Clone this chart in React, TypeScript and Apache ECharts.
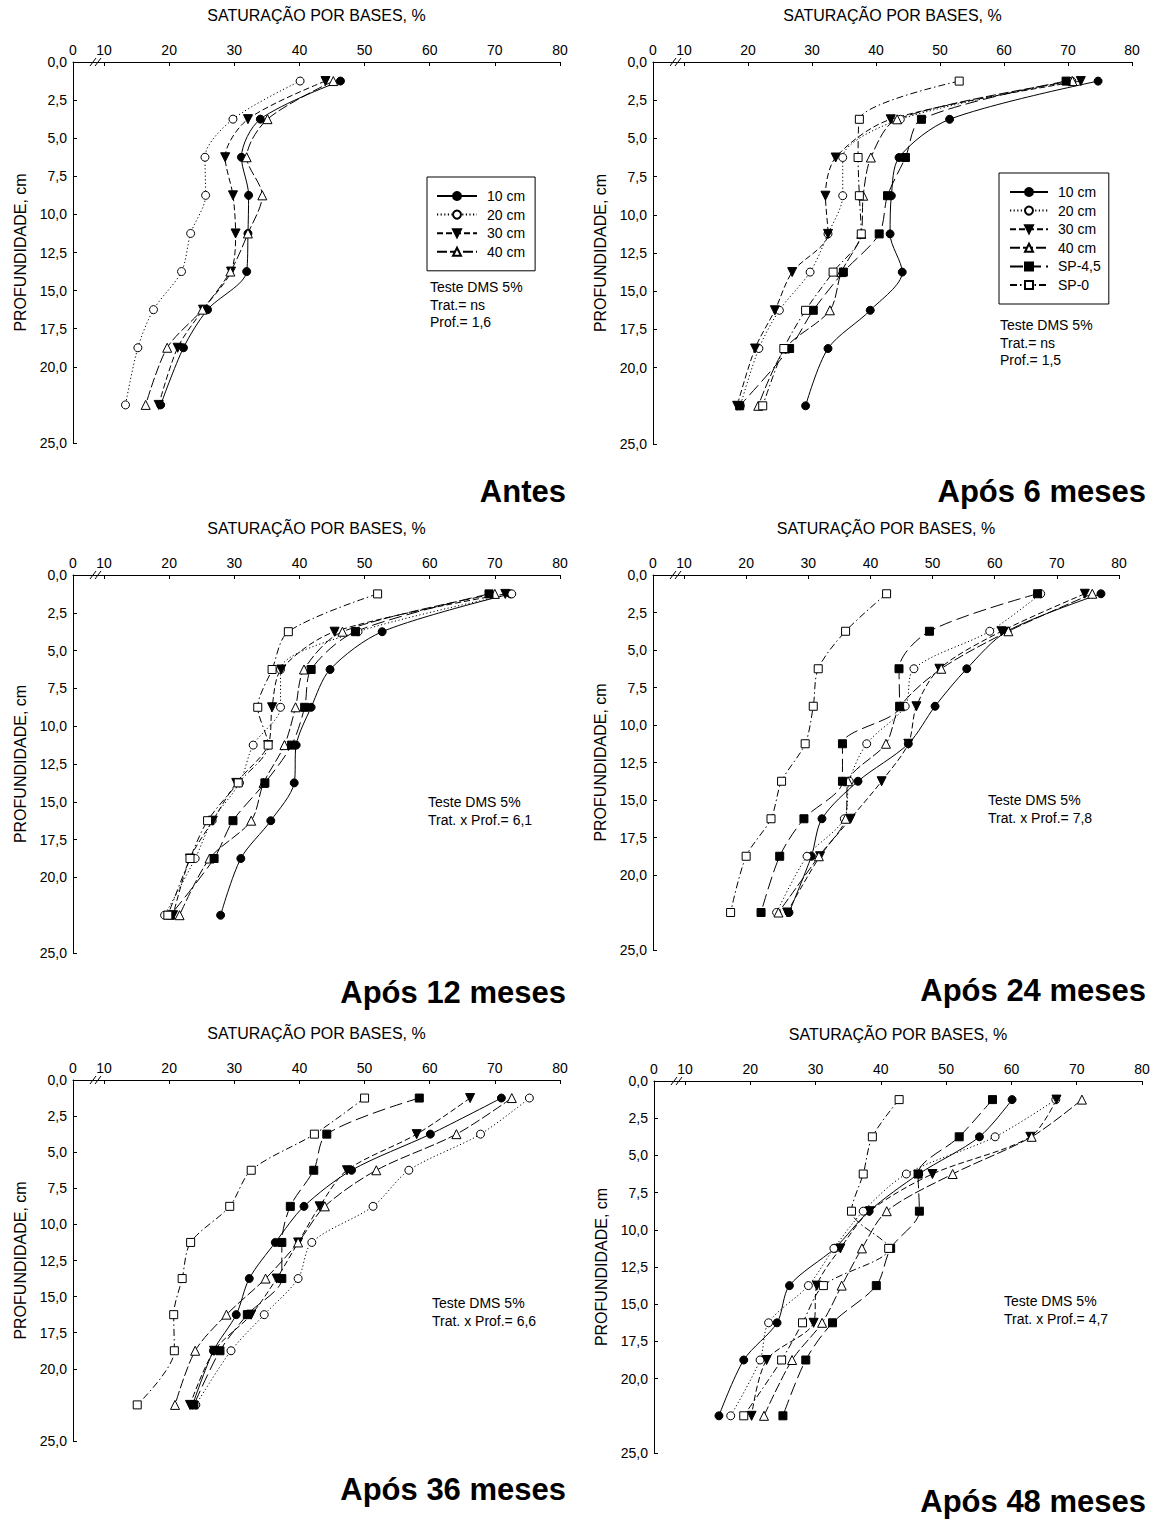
import React, { useEffect, useRef } from 'react';
import * as echarts from 'echarts';

// Sampling depths (cm) shared by every profile
const DEPTHS = [1.25, 3.75, 6.25, 8.75, 11.25, 13.75, 16.25, 18.75, 22.5];
const X_TICKS = [10, 20, 30, 40, 50, 60, 70, 80];
const Y_TICKS = [0, 2.5, 5, 7.5, 10, 12.5, 15, 17.5, 20, 25];
const SERIES_NAMES = ['10 cm', '20 cm', '30 cm', '40 cm', 'SP-4,5', 'SP-0'];

// Base saturation (%) per treatment, one value per depth
const antes10 = [46.3, 34.0, 31.1, 32.2, 32.1, 31.9, 25.9, 22.2, 18.7];
const antes20 = [40.1, 29.8, 25.5, 25.6, 23.3, 21.9, 17.6, 15.2, 13.3];
const antes30 = [44.0, 32.1, 28.6, 29.8, 30.2, 29.5, 25.2, 21.3, 18.4];
const antes40 = [45.2, 35.1, 31.9, 34.3, 32.1, 29.4, 25.1, 19.7, 16.4];

const m6_10 = [74.7, 51.5, 43.6, 42.4, 42.2, 44.1, 39.1, 32.5, 29.0];
const m6_20 = [70.6, 43.8, 34.8, 34.8, 32.5, 29.7, 24.9, 21.7, 18.8];
const m6_30 = [72.0, 42.3, 33.7, 32.1, 32.5, 26.9, 24.2, 21.1, 18.3];
const m6_40 = [70.7, 43.3, 39.2, 38.0, 37.7, 34.6, 32.8, 25.8, 21.6];
const m6_sp45 = [69.7, 47.1, 44.6, 41.8, 40.5, 34.9, 30.2, 26.5, 18.7];
const m6_sp0 = [53.0, 37.4, 37.2, 37.4, 37.7, 33.3, 29.0, 25.6, 22.3];

const m12_10 = [72.4, 52.7, 44.7, 41.8, 39.5, 39.2, 35.6, 31.0, 27.9];
const m12_20 = [72.6, 49.0, 37.1, 37.1, 32.9, 30.8, 26.6, 24.0, 19.3];
const m12_30 = [71.6, 45.4, 37.2, 35.8, 35.2, 30.3, 26.7, 23.2, 20.6];
const m12_40 = [70.0, 46.6, 40.7, 39.4, 37.7, 34.5, 32.6, 26.2, 21.6];
const m12_sp45 = [69.1, 48.6, 41.8, 40.8, 38.8, 34.7, 29.8, 26.9, 20.2];
const m12_sp0 = [52.0, 38.3, 35.8, 33.6, 35.2, 30.6, 25.9, 23.2, 19.8];

const m24_10 = [77.1, 62.0, 55.5, 50.4, 46.1, 38.0, 32.2, 30.5, 26.9];
const m24_20 = [67.4, 59.2, 47.0, 45.6, 39.4, 36.6, 35.8, 29.8, 24.9];
const m24_30 = [74.5, 61.1, 51.1, 47.4, 46.1, 41.8, 36.8, 31.9, 26.6];
const m24_40 = [75.7, 62.2, 51.4, 44.8, 42.5, 36.4, 36.0, 31.7, 25.2];
const m24_sp45 = [66.9, 49.5, 44.6, 44.7, 35.5, 35.5, 29.3, 25.4, 22.4];
const m24_sp0 = [42.6, 36.0, 31.6, 30.8, 29.5, 25.7, 24.0, 20.0, 17.5];

const m36_10 = [71.0, 60.1, 48.0, 40.7, 36.3, 32.3, 30.3, 26.8, 23.6];
const m36_20 = [75.3, 67.8, 56.8, 51.3, 41.9, 39.8, 34.6, 29.5, 24.1];
const m36_30 = [66.2, 58.0, 47.3, 43.1, 39.8, 36.5, 32.6, 26.9, 23.2];
const m36_40 = [72.6, 64.1, 51.8, 43.9, 39.8, 34.8, 28.8, 24.0, 20.9];
const m36_sp45 = [58.4, 44.2, 42.2, 38.6, 37.3, 37.3, 32.0, 27.8, 23.8];
const m36_sp0 = [50.0, 42.3, 32.6, 29.3, 23.3, 22.0, 20.7, 20.8, 15.1];

const m48_10 = [60.1, 55.1, 45.8, 38.2, 32.9, 26.0, 24.1, 19.0, 15.2];
const m48_20 = [66.8, 57.5, 43.9, 37.3, 32.8, 28.9, 22.8, 21.5, 17.0];
const m48_30 = [66.9, 62.9, 47.9, 38.3, 33.8, 30.2, 29.7, 22.5, 20.2];
const m48_40 = [70.8, 63.1, 51.0, 40.9, 37.1, 34.0, 31.0, 26.4, 22.1];
const m48_sp45 = [57.1, 52.0, 45.7, 45.9, 41.5, 39.3, 32.6, 28.5, 25.0];
const m48_sp0 = [42.8, 38.7, 37.3, 35.5, 41.2, 31.2, 28.0, 24.8, 19.0];

const PANEL_DATA = [
  [antes10, antes20, antes30, antes40],
  [m6_10, m6_20, m6_30, m6_40, m6_sp45, m6_sp0],
  [m12_10, m12_20, m12_30, m12_40, m12_sp45, m12_sp0],
  [m24_10, m24_20, m24_30, m24_40, m24_sp45, m24_sp0],
  [m36_10, m36_20, m36_30, m36_40, m36_sp45, m36_sp0],
  [m48_10, m48_20, m48_30, m48_40, m48_sp45, m48_sp0],
];

const PANEL_LABELS = ['Antes', 'Após 6 meses', 'Após 12 meses', 'Após 24 meses', 'Após 36 meses', 'Após 48 meses'];
const PANEL_NOTES = [
  ['Teste DMS 5%', 'Trat.= ns', 'Prof.= 1,6'],
  ['Teste DMS 5%', 'Trat.= ns', 'Prof.= 1,5'],
  ['Teste DMS 5%', 'Trat. x Prof.= 6,1'],
  ['Teste DMS 5%', 'Trat. x Prof.= 7,8'],
  ['Teste DMS 5%', 'Trat. x Prof.= 6,6'],
  ['Teste DMS 5%', 'Trat. x Prof.= 4,7'],
];

const X_NAME = 'SATURAÇÃO POR BASES, %';
const Y_NAME = 'PROFUNDIDADE, cm';

const FONT = '"Liberation Sans", Arial, Helvetica, sans-serif';

// Plot-area geometry of each panel (px)
const LAYOUT = [
  { left: 73, right: 560, top: 62, bottom: 443, labelX: 566, labelY: 491, noteX: 430, noteY: 287 },
  { left: 653, right: 1132, top: 62, bottom: 444, labelX: 1146, labelY: 491, noteX: 1000, noteY: 325 },
  { left: 73, right: 560, top: 575, bottom: 953, labelX: 566, labelY: 992, noteX: 428, noteY: 802 },
  { left: 653, right: 1119, top: 575, bottom: 950, labelX: 1146, labelY: 990, noteX: 988, noteY: 800 },
  { left: 73, right: 560, top: 1080, bottom: 1441, labelX: 566, labelY: 1489, noteX: 432, noteY: 1303 },
  { left: 654, right: 1142, top: 1081, bottom: 1453, labelX: 1146, labelY: 1501, noteX: 1004, noteY: 1301 },
];

// Gap (px) between the axis origin and the "10" tick, across the axis break
const BREAK_GAP = 31;

const SERIES_STYLE: Record<string, any> = {
  '10 cm': { symbol: 'circle', size: 8, rotate: 0, fill: '#000', dash: 'solid' },
  '20 cm': { symbol: 'circle', size: 8, rotate: 0, fill: '#fff', dash: [1.2, 2.4] },
  '30 cm': { symbol: 'triangle', size: 9, rotate: 180, fill: '#000', dash: [6, 3] },
  '40 cm': { symbol: 'triangle', size: 9, rotate: 0, fill: '#fff', dash: [10, 3] },
  'SP-4,5': { symbol: 'rect', size: 8, rotate: 0, fill: '#000', dash: [13, 5] },
  'SP-0': { symbol: 'rect', size: 8, rotate: 0, fill: '#fff', dash: [7, 3, 1.5, 3] },
};

function buildOption() {
  const grid: any[] = [];
  const xAxis: any[] = [];
  const yAxis: any[] = [];
  const series: any[] = [];
  const graphic: any[] = [];

  LAYOUT.forEach((p, i) => {
    const width = p.right - p.left;
    const pxPerUnit = (width - BREAK_GAP) / 70;
    const xMin = 10 - BREAK_GAP / pxPerUnit;

    grid.push({ left: p.left, top: p.top, width, height: p.bottom - p.top, outerBoundsMode: 'none' });

    xAxis.push({
      gridIndex: i,
      type: 'value',
      position: 'top',
      min: xMin,
      max: 80,
      name: X_NAME,
      nameLocation: 'middle',
      nameGap: 39,
      nameTextStyle: { color: '#000', fontSize: 16, fontFamily: FONT },
      axisLine: { show: true, onZero: false, lineStyle: { color: '#000', width: 1 } },
      axisTick: { show: true, inside: true, length: 4, customValues: X_TICKS, lineStyle: { color: '#000' } },
      axisLabel: {
        customValues: [xMin, ...X_TICKS],
        formatter: (v: number) => (v < 9 ? '0' : String(Math.round(v))),
        color: '#000',
        fontSize: 14,
        fontFamily: FONT,
        margin: 5,
      },
      splitLine: { show: false },
    });

    yAxis.push({
      gridIndex: i,
      type: 'value',
      inverse: true,
      min: 0,
      max: 25,
      name: Y_NAME,
      nameLocation: 'middle',
      nameRotate: 90,
      nameGap: 45,
      nameTextStyle: { color: '#000', fontSize: 16, fontFamily: FONT },
      axisLine: { show: true, onZero: false, lineStyle: { color: '#000', width: 1 } },
      axisTick: { show: true, inside: true, length: 4, customValues: Y_TICKS, lineStyle: { color: '#000' } },
      axisLabel: {
        customValues: Y_TICKS,
        formatter: (v: number) => v.toFixed(1).replace('.', ','),
        color: '#000',
        fontSize: 14,
        fontFamily: FONT,
        margin: 6,
      },
      splitLine: { show: false },
    });

    PANEL_DATA[i].forEach((values, k) => {
      const name = SERIES_NAMES[k];
      const st = SERIES_STYLE[name];
      series.push({
        type: 'line',
        name,
        xAxisIndex: i,
        yAxisIndex: i,
        data: values.map((v, j) => [v, DEPTHS[j]]),
        smooth: 0.3,
        symbol: st.symbol,
        symbolSize: st.size,
        symbolRotate: st.rotate,
        showAllSymbol: true,
        lineStyle: { color: '#000', width: 1, type: st.dash },
        itemStyle: { color: st.fill, borderColor: '#000', borderWidth: 1 },
        emphasis: { disabled: true },
      });
    });

    // Axis break marks between 0 and 10
    const bx = p.left + 17;
    graphic.push(
      { type: 'line', shape: { x1: bx, y1: p.top + 4, x2: bx + 6, y2: p.top - 4 }, style: { stroke: '#000', lineWidth: 1 } },
      { type: 'line', shape: { x1: bx + 5, y1: p.top + 4, x2: bx + 11, y2: p.top - 4 }, style: { stroke: '#000', lineWidth: 1 } }
    );

    // Period label
    graphic.push({
      type: 'text',
      x: p.labelX,
      y: p.labelY,
      style: {
        text: PANEL_LABELS[i],
        fill: '#000',
        font: `bold 31px ${FONT}`,
        align: 'right',
        verticalAlign: 'middle',
      },
    });

    // LSD test notes
    PANEL_NOTES[i].forEach((line, n) => {
      graphic.push({
        type: 'text',
        x: p.noteX,
        y: p.noteY + n * 17.5,
        style: { text: line, fill: '#000', font: `14px ${FONT}`, align: 'left', verticalAlign: 'middle' },
      });
    });
  });

  const legendBase = {
    orient: 'vertical',
    itemWidth: 40,
    itemHeight: 10,
    itemGap: 4.6,
    borderColor: '#000',
    borderWidth: 1,
    selectedMode: false,
    textStyle: { color: '#000', fontSize: 14, fontFamily: FONT, lineHeight: 14, padding: [0, 0, 0, 5] },
  };

  const legend = [
    { ...legendBase, data: SERIES_NAMES.slice(0, 4), left: 427, top: 177, padding: [12, 10, 12, 9] },
    { ...legendBase, itemWidth: 38, data: SERIES_NAMES, left: 999, top: 173, padding: [12, 8, 12, 10] },
  ];

  return {
    animation: false,
    backgroundColor: '#fff',
    textStyle: { fontFamily: FONT },
    grid,
    xAxis,
    yAxis,
    legend,
    series,
    graphic,
  };
}

export default function App() {
  const ref = useRef<HTMLDivElement>(null);
  useEffect(() => {
    document.body.style.margin = '0';
    const chart = echarts.init(ref.current as HTMLDivElement, null, { renderer: 'svg' });
    chart.setOption(buildOption() as any);
    return () => chart.dispose();
  }, []);
  return <div ref={ref} style={{ width: 1171, height: 1519 }} />;
}
